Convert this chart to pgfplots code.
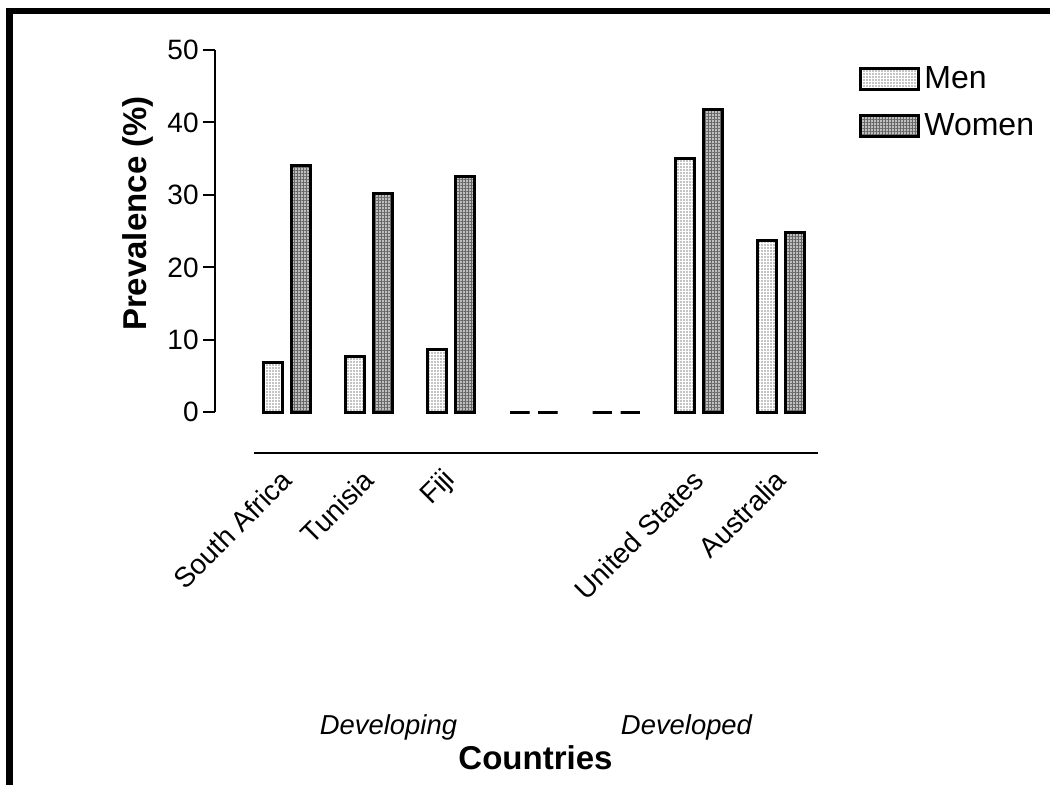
\documentclass[border=0pt]{standalone}
\usepackage{fontspec}
\setmainfont{Liberation Sans}
\usepackage{pgfplots}
\pgfplotsset{compat=1.18}
\usetikzlibrary{patterns.meta}
\pgfplotsset{mybarlegend/.style={legend image code/.code={\draw[##1] (0pt,-5.25pt) rectangle (29pt,5.25pt);}}}
\begin{document}
\begin{tikzpicture}
\useasboundingbox (0,0) rectangle (525pt,392.5pt);
\draw[line width=3.3pt, line join=miter] (4.75pt,-3pt) -- (4.75pt,387pt) -- (530pt,387pt);
\begin{axis}[
  at={(107.5pt,186.35pt)}, anchor=south west,
  scale only axis, width=301.5pt, height=181.15pt,
  xmin=-0.870, xmax=6.448, ymin=0, ymax=50,
  clip=false,
  ybar=4.5pt, bar width=9.5pt,
  axis y line*=left, axis x line*=bottom,
  x axis line style={draw=none},
  y axis line style={line width=1pt},
  xtick={0,1,2,5,6},
  xticklabels={South Africa,Tunisia,Fiji,United States,Australia},
  xtick style={draw=none},
  xtick align=inside,
  ytick={0,10,20,30,40,50},
  ytick align=outside,
  ytick style={line width=1pt, black},
  major tick length=6pt,
  /pgf/number format/assume math mode=true,
  yticklabel style={font=\fontsize{14}{16}\selectfont, inner sep=0pt},
  yticklabel shift=2pt,
  xticklabel style={font=\fontsize{14}{16}\selectfont, inner sep=0pt, rotate=45, anchor=east},
  xticklabel shift=31.5pt,
  ylabel={\textbf{Prevalence (\%)}},
  ylabel style={font=\fontsize{16.5}{19}\selectfont, at={(axis description cs:-0.1277,0.5487)}, anchor=center},
  xlabel={\textbf{Countries}},
  xlabel style={font=\fontsize{16.5}{19}\selectfont, at={(axis description cs:0.5315,-0.9873)}, anchor=base},
  legend cell align=left,
  legend style={draw=none, fill=none, at={(axis description cs:1.068,0.967)}, anchor=north west, inner sep=0pt, row sep=7pt, font=\fontsize{16}{19}\selectfont},
]
\addplot[draw=black, line width=1.5pt,
  preaction={fill=white},
  preaction={pattern={Dots[distance=1.5pt,radius=0.28pt]}, pattern color=black},
  mybarlegend]
  coordinates {(0,6.9) (1,7.7) (2,8.7) (3,0) (4,0) (5,35.0) (6,23.7)};
\addlegendentry{Men}
\addplot[draw=black, line width=1.5pt,
  preaction={fill=black!25},
  preaction={pattern={Hatch[distance=1.5pt,line width=0.35pt,angle=0]}, pattern color=black!60},
  mybarlegend]
  coordinates {(0,34.1) (1,30.2) (2,32.6) (3,0) (4,0) (5,41.8) (6,24.8)};
\addlegendentry{Women}
\draw[line width=1pt] (axis cs:-0.397,-5.63) -- (axis cs:6.448,-5.63);
\node[font=\itshape\fontsize{13.7}{16}\selectfont, anchor=base] at (axis description cs:0.2877,-0.8907) {Developing};
\node[font=\itshape\fontsize{13.7}{16}\selectfont, anchor=base] at (axis description cs:0.7819,-0.8907) {Developed};
\end{axis}
\end{tikzpicture}
\end{document}
